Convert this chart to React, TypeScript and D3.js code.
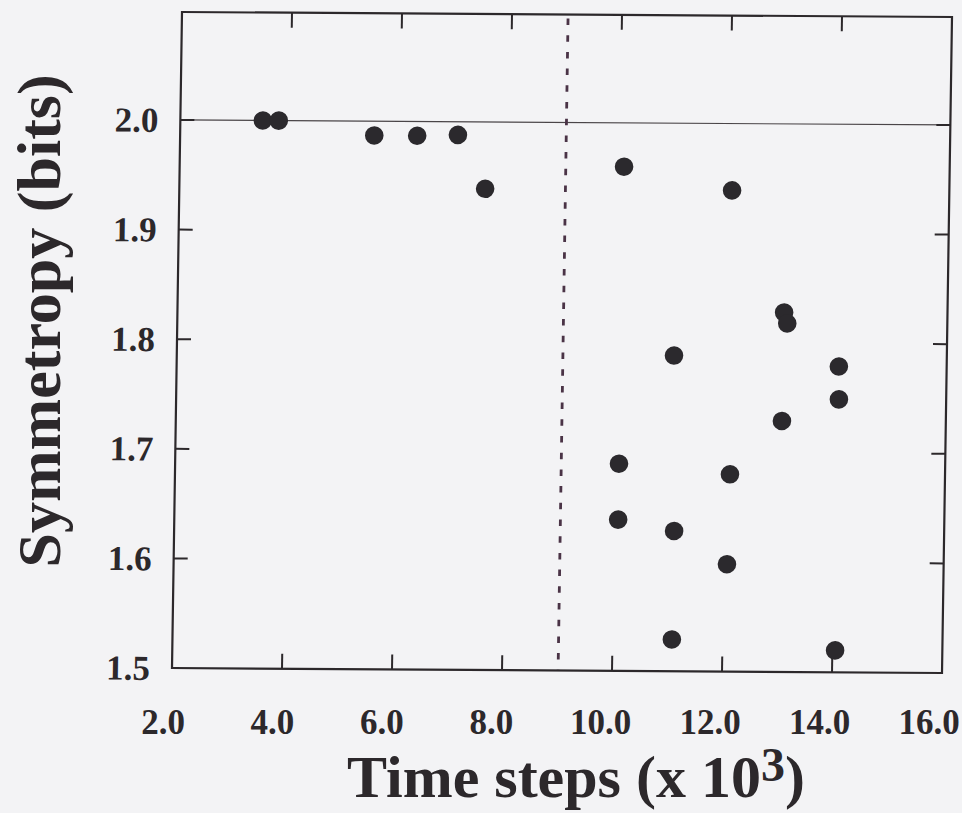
import React from "react";
import * as d3 from "d3";

// Data (time steps in thousands, symmetropy in bits)
const timeSteps = [3.5, 3.79, 5.53, 6.31, 7.05, 7.56, 10.08, 12.05, 13.03, 13.09, 11.04, 14.04, 14.05, 13.02, 10.07, 12.09, 10.07, 11.09, 12.06, 11.08, 14.05];
const symmetropy = [2.0, 2.0, 1.987, 1.987, 1.988, 1.939, 1.96, 1.939, 1.828, 1.818, 1.788, 1.779, 1.749, 1.729, 1.689, 1.68, 1.638, 1.628, 1.598, 1.529, 1.52];
const xTicks = [2, 4, 6, 8, 10, 12, 14, 16];
const xInnerTicks = [4, 6, 8, 10, 12, 14];
const yTicks = [1.5, 1.6, 1.7, 1.8, 1.9, 2.0];
const yInnerTicks = [1.6, 1.7, 1.8, 1.9, 2.0];
const referenceY = 2.0;
const dashedX = 9.02;
const xDomain = [2, 16];
const yDomain = [1.5, 2.0985];

const W = 770;
const H = 656;
const FONT = "'Liberation Serif', 'Times New Roman', serif";
const INK = "#2c282b";

export default function App() {
  const x = d3.scaleLinear().domain(xDomain).range([0, W]);
  const y = d3.scaleLinear().domain(yDomain).range([H, 0]);
  const xLabel = d3.scaleLinear().domain(xDomain).range([163, 929]);
  const points = timeSteps.map((t, i) => ({ t, s: symmetropy[i] }));

  return (
    <svg
      width={962}
      height={813}
      style={{ position: "absolute", left: 0, top: 0, background: "#f3f3f5" }}
    >
      <rect x={0} y={0} width={962} height={813} fill="#f3f3f5" />
      <g transform="matrix(1,0.0065,-0.01524,1,182,12)">
        {/* reference line at 2.0 */}
        <line x1={0} x2={W} y1={y(referenceY)} y2={y(referenceY)} stroke="#4a4548" strokeWidth={1.2} />
        {/* dashed vertical line */}
        <line
          x1={x(dashedX)}
          x2={x(dashedX)}
          y1={4}
          y2={H}
          stroke="#4a3346"
          strokeWidth={2.8}
          strokeDasharray="6.5 10.2"
        />
        {/* frame */}
        <rect x={0} y={0} width={W} height={H} fill="none" stroke={INK} strokeWidth={2.2} />
        {/* ticks */}
        {xInnerTicks.map((v) => (
          <g key={"xt" + v}>
            <line x1={x(v)} x2={x(v)} y1={H} y2={H - 15} stroke={INK} strokeWidth={2} />
            <line x1={x(v)} x2={x(v)} y1={0} y2={15} stroke={INK} strokeWidth={2} />
          </g>
        ))}
        {yInnerTicks.map((v) => (
          <g key={"yt" + v}>
            <line x1={0} x2={14} y1={y(v)} y2={y(v)} stroke={INK} strokeWidth={2} />
            <line x1={W} x2={W - 14} y1={y(v)} y2={y(v)} stroke={INK} strokeWidth={2} />
          </g>
        ))}
        {/* y tick labels */}
        {yTicks.map((v) => (
          <text
            key={"yl" + v}
            x={-22}
            y={y(v) + 12}
            textAnchor="end"
            fontFamily={FONT}
            fontWeight="bold"
            fontSize={35}
            fill={INK}
          >
            {v.toFixed(1)}
          </text>
        ))}
        {/* points */}
        {points.map((p, i) => (
          <circle key={"p" + i} cx={x(p.t)} cy={y(p.s)} r={9.3} fill="#2b292d" />
        ))}
      </g>
      {/* x tick labels */}
      {xTicks.map((v) => (
        <text
          key={"xl" + v}
          x={xLabel(v)}
          y={734}
          textAnchor="middle"
          fontFamily={FONT}
          fontWeight="bold"
          fontSize={35}
          fill={INK}
        >
          {v.toFixed(1)}
        </text>
      ))}
      {/* axis titles */}
      <text
        x={576}
        y={797}
        textAnchor="middle"
        fontFamily={FONT}
        fontWeight="bold"
        fontSize={60}
        fill={INK}
      >
        Time steps (x 10
        <tspan fontSize={48} dy={-16}>3</tspan>
        <tspan dy={16}>)</tspan>
      </text>
      <text
        transform="translate(60,321) rotate(-90)"
        textAnchor="middle"
        fontFamily={FONT}
        fontWeight="bold"
        fontSize={62}
        fill={INK}
      >
        Symmetropy (bits)
      </text>
    </svg>
  );
}
